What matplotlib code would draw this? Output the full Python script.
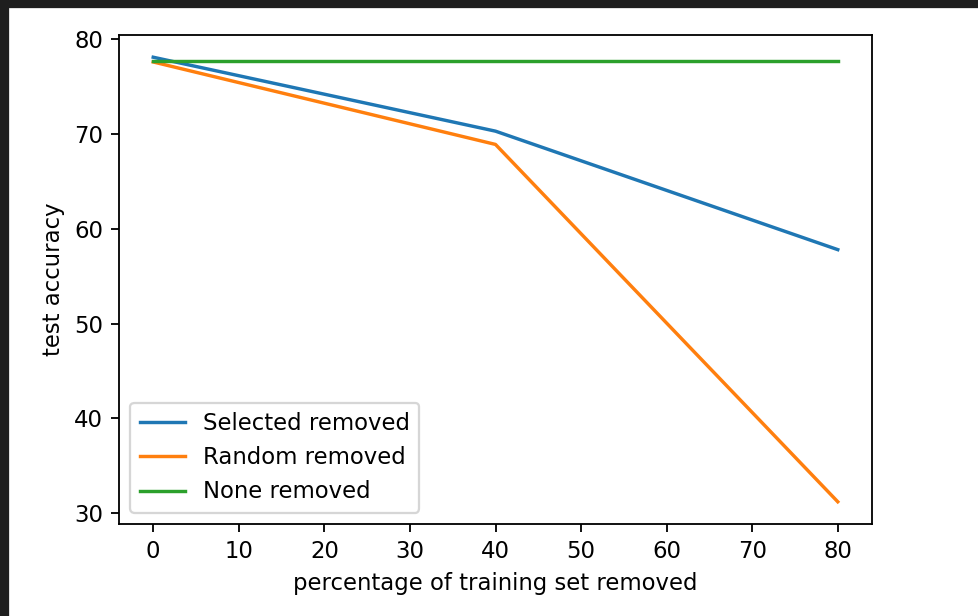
import matplotlib
matplotlib.use("Agg")
import matplotlib.pyplot as plt
from matplotlib.patches import Rectangle

# percentage removed vs test accuracy
pct_removed = [0, 40, 80]
selected_acc = [78.1, 70.3, 57.8]
random_acc = [77.6, 68.9, 31.2]
none_acc = [77.7, 77.7, 77.7]

W, H = 978, 616
DPI = 164

fig = plt.figure(figsize=(W / DPI, H / DPI), dpi=DPI)
ax = fig.add_axes([119 / W, 1 - 524 / H, (872 - 119) / W, (524 - 35) / H])

ax.plot(pct_removed, selected_acc, label="Selected removed")
ax.plot(pct_removed, random_acc, label="Random removed")
ax.plot(pct_removed, none_acc, label="None removed")

ax.set_xlabel("percentage of training set removed")
ax.set_ylabel("test accuracy")
ax.legend(loc="lower left")

# dark screenshot border on top and left
fig.patches.append(Rectangle((0, 1 - 7 / H), 1, 7 / H, transform=fig.transFigure,
                             color="#1e1e1e", zorder=0))
fig.patches.append(Rectangle((0, 0), 8 / W, 1, transform=fig.transFigure,
                             color="#1e1e1e", zorder=0))

fig.savefig("out.png", dpi=DPI)
